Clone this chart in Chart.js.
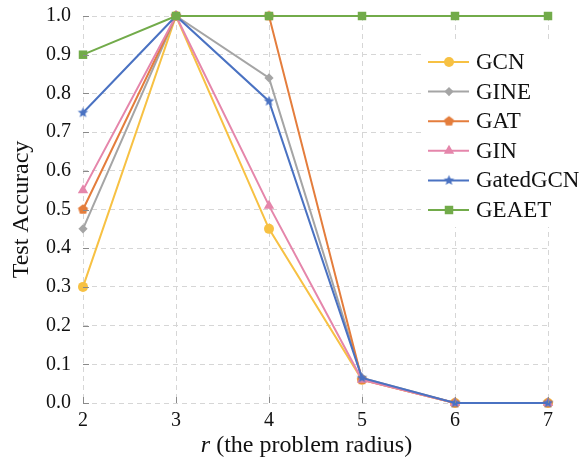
<!DOCTYPE html>
<html>
<head>
<meta charset="utf-8">
<script src="https://cdn.jsdelivr.net/npm/chart.js@4"></script>
<style>
  body { margin: 0; background: #fff; }
  canvas { display: block; }
</style>
</head>
<body>
<canvas id="radiusChart" width="583" height="465"></canvas>
<script>
// Data: x = problem radius, y = test accuracy
const radius = [2, 3, 4, 5, 6, 7];
const namaModel = ["GCN", "GINE", "GAT", "GIN", "GatedGCN", "GEAET"];
const accGCN = [0.3, 1.0, 0.45, 0.06, 0, 0];
const accGINE = [0.45, 1.0, 0.84, 0.065, 0, 0];
const accGAT = [0.5, 1.0, 1.0, 0.06, 0, 0];
const accGIN = [0.55, 1.0, 0.51, 0.06, 0, 0];
const accGatedGCN = [0.75, 1.0, 0.78, 0.065, 0, 0];
const accGEAET = [0.9, 1.0, 1.0, 1.0, 1.0, 1.0];
const yTicks = [0, 0.1, 0.2, 0.3, 0.4, 0.5, 0.6, 0.7, 0.8, 0.9, 1.0];

const FONT = "'Liberation Serif', 'Times New Roman', serif";

// marker custom (pentagon dan bintang) karena Chart.js tidak punya
function buatPoligon(warna, r, sisi, bintang) {
  const c = document.createElement("canvas");
  const s = Math.ceil(r * 2 + 2);
  c.width = s;
  c.height = s;
  const g = c.getContext("2d");
  g.fillStyle = warna;
  g.beginPath();
  const n = bintang ? sisi * 2 : sisi;
  for (let i = 0; i < n; i++) {
    const a = -Math.PI / 2 + (i * 2 * Math.PI) / n;
    const rr = bintang && i % 2 === 1 ? r * 0.45 : r;
    const px = s / 2 + Math.cos(a) * rr;
    const py = s / 2 + Math.sin(a) * rr;
    if (i === 0) g.moveTo(px, py);
    else g.lineTo(px, py);
  }
  g.closePath();
  g.fill();
  return c;
}

const warna = ["#f7c143", "#a5a5a5", "#e47d3c", "#e586ab", "#4a72c2", "#72ab4a"];
const semuaData = [accGCN, accGINE, accGAT, accGIN, accGatedGCN, accGEAET];
const gayaTitik = [
  "circle",
  "rectRot",
  buatPoligon(warna[2], 5.2, 5, false),
  "triangle",
  buatPoligon(warna[4], 5.5, 5, true),
  "rect",
];
const radiusTitik = [5, 4.6, 5.2, 6, 5.5, 6];

const datasets = namaModel.map((nama, i) => ({
  label: nama,
  data: radius.map((x, j) => ({ x: x, y: semuaData[i][j] })),
  borderColor: warna[i],
  backgroundColor: warna[i],
  borderWidth: 2,
  pointStyle: gayaTitik[i],
  pointRadius: radiusTitik[i],
  pointBorderWidth: 0,
  pointHoverRadius: radiusTitik[i],
  order: namaModel.length - 1 - i,
  tension: 0,
  clip: false,
}));

// legenda di dalam area grafik
const legendaDalam = {
  id: "legendaDalam",
  afterDatasetsDraw(chart) {
    const ctx = chart.ctx;
    ctx.save();
    ctx.fillStyle = "#fff";
    ctx.fillRect(422, 42, 161, 185);
    datasets.forEach((ds, i) => {
      const y = 62 + i * 29.6;
      ctx.strokeStyle = ds.borderColor;
      ctx.lineWidth = 2;
      ctx.beginPath();
      ctx.moveTo(428, y);
      ctx.lineTo(469, y);
      ctx.stroke();
      ctx.fillStyle = ds.backgroundColor;
      Chart.helpers.drawPoint(ctx, { pointStyle: ds.pointStyle, radius: ds.pointRadius, borderWidth: 0, rotation: 0 }, 449, y);
      ctx.fillStyle = "#111";
      ctx.font = "23px " + FONT;
      ctx.textBaseline = "middle";
      ctx.textAlign = "left";
      ctx.fillText(ds.label, 476, y + 1);
    });
    ctx.restore();
  },
  afterDraw(chart) {
    const ctx = chart.ctx;
    const a = chart.chartArea;
    ctx.save();
    // tick kecil ke dalam
    ctx.strokeStyle = "#8a8a8a";
    ctx.lineWidth = 1;
    chart.scales.y.ticks.forEach((t) => {
      const py = Math.round(chart.scales.y.getPixelForValue(t.value)) + 0.5;
      ctx.beginPath();
      ctx.moveTo(a.left, py);
      ctx.lineTo(a.left + 6, py);
      ctx.stroke();
    });
    chart.scales.x.ticks.forEach((t) => {
      const px = Math.round(chart.scales.x.getPixelForValue(t.value)) + 0.5;
      ctx.beginPath();
      ctx.moveTo(px, a.bottom);
      ctx.lineTo(px, a.bottom - 6);
      ctx.stroke();
    });
    // judul sumbu x dengan r miring
    const bagian1 = "r";
    const bagian2 = " (the problem radius)";
    ctx.fillStyle = "#111";
    ctx.textBaseline = "alphabetic";
    ctx.textAlign = "left";
    ctx.font = "italic 24px " + FONT;
    const w1 = ctx.measureText(bagian1).width;
    ctx.font = "24px " + FONT;
    const w2 = ctx.measureText(bagian2).width;
    const cx = (a.left + a.right) / 2 - 9;
    let x0 = cx - (w1 + w2) / 2;
    ctx.font = "italic 24px " + FONT;
    ctx.fillText(bagian1, x0, 452);
    ctx.font = "24px " + FONT;
    ctx.fillText(bagian2, x0 + w1, 452);
    ctx.restore();
  },
};

const ctx = document.getElementById("radiusChart").getContext("2d");
new Chart(ctx, {
  type: "line",
  data: { datasets: datasets },
  options: {
    responsive: false,
    animation: false,
    devicePixelRatio: 1,
    layout: { padding: { left: 0, right: 35, top: 16, bottom: 0 } },
    plugins: {
      legend: { display: false },
      tooltip: { enabled: false },
    },
    scales: {
      x: {
        type: "linear",
        min: 2,
        max: 7,
        afterFit: (scale) => {
          scale.height = 62;
          scale.paddingLeft = 0;
          scale.paddingRight = 0;
        },
        afterBuildTicks: (scale) => {
          scale.ticks = radius.map((v) => ({ value: v }));
        },
        ticks: {
          padding: 6,
          color: "#111",
          font: { family: FONT, size: 20 },
          callback: (v) => String(v),
        },
        grid: {
          color: "#d6d6d6",
          drawTicks: false,
          lineWidth: 1,
        },
        border: { display: false, dash: [5, 4] },
      },
      y: {
        min: 0,
        max: 1,
        afterFit: (scale) => {
          scale.width = 83;
          scale.paddingTop = 0;
          scale.paddingBottom = 0;
        },
        afterBuildTicks: (scale) => {
          scale.ticks = yTicks.map((v) => ({ value: v }));
        },
        ticks: {
          padding: 12,
          color: "#111",
          font: { family: FONT, size: 20 },
          callback: (v) => Number(v).toFixed(1),
        },
        title: {
          display: true,
          text: "Test Accuracy",
          color: "#111",
          font: { family: FONT, size: 24 },
          padding: { top: 7, bottom: 0 },
        },
        grid: {
          color: "#d6d6d6",
          drawTicks: false,
          lineWidth: 1,
        },
        border: { display: false, dash: [5, 4] },
      },
    },
  },
  plugins: [legendaDalam],
});
</script>
</body>
</html>
